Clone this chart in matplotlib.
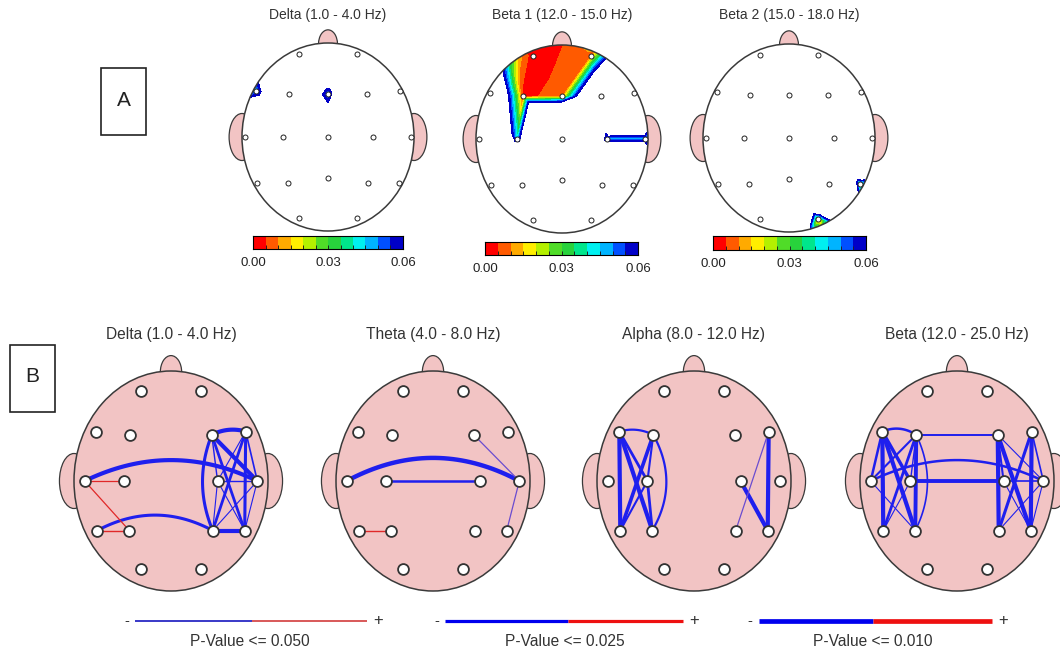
import numpy as np
import matplotlib
matplotlib.use('agg')
import matplotlib.pyplot as plt
import matplotlib.ticker as mticker
from matplotlib.patches import Ellipse, Rectangle
from matplotlib.colors import ListedColormap, BoundaryNorm

plt.rcParams['font.family'] = ['Liberation Sans', 'DejaVu Sans']

W, H = 1060, 651

# 10-20 electrode layout (head units, nose up)
names = ['Fp1', 'Fp2', 'F7', 'F3', 'Fz', 'F4', 'F8', 'T3', 'C3', 'Cz', 'C4', 'T4',
         'T5', 'P3', 'Pz', 'P4', 'T6', 'O1', 'O2']
ex = [-0.31, 0.31, -0.77, -0.42, 0.0, 0.42, 0.77, -0.89, -0.48, 0.0, 0.48, 0.89,
      -0.76, -0.43, 0.0, 0.43, 0.76, -0.31, 0.31]
ey = [0.82, 0.82, 0.45, 0.42, 0.42, 0.42, 0.45, 0.0, 0.0, 0.0, 0.0, 0.0,
      -0.45, -0.45, -0.40, -0.45, -0.45, -0.80, -0.80]

# panel A: p-values per electrode (same order as names)
titles_a = ['Delta (1.0 - 4.0 Hz)', 'Beta 1 (12.0 - 15.0 Hz)', 'Beta 2 (15.0 - 18.0 Hz)']
p_delta_a = [0.2, 0.2, 0.045, 0.15, 0.045, 0.2, 0.2, 0.15, 0.2, 0.12, 0.2, 0.2,
             0.2, 0.2, 0.2, 0.2, 0.2, 0.2, 0.2]
p_beta1_a = [0.001, 0.007, 0.13, 0.003, 0.008, 0.15, 0.3, 0.3, 0.04, 0.4, 0.045, 0.045,
             0.4, 0.4, 0.4, 0.4, 0.4, 0.4, 0.4]
p_beta2_a = [0.4, 0.4, 0.4, 0.4, 0.4, 0.4, 0.4, 0.4, 0.4, 0.4, 0.4, 0.4,
             0.4, 0.4, 0.4, 0.4, 0.025, 0.4, 0.008]
levels = np.linspace(0, 0.06, 13)
level_colors = ['#ff0000', '#ff5a00', '#ffaa00', '#ffee00', '#b4f000', '#50dc28',
                '#28d23c', '#00e68c', '#00f0f0', '#00b4ff', '#0050ff', '#0000c8']
cbar_ticks = [0.0, 0.03, 0.06]

# panel B: connections (from, to, width, colour, bend)
titles_b = ['Delta (1.0 - 4.0 Hz)', 'Theta (4.0 - 8.0 Hz)', 'Alpha (8.0 - 12.0 Hz)',
            'Beta (12.0 - 25.0 Hz)']
B, R, P = '#1f1fee', '#e02828', '#6a4cd0'
conn_delta = [('T3', 'T4', 3.0, B, 0.19), ('T5', 'P4', 2.2, B, 0.14), ('P4', 'T6', 3.0, B, 0),
              ('T3', 'C3', 0.9, R, 0), ('T3', 'P3', 0.9, R, 0), ('T5', 'P3', 1.0, R, 0),
              ('F4', 'F8', 3.0, B, 0.03), ('F4', 'P4', 2.2, B, -0.1), ('F4', 'T4', 3.0, B, 0),
              ('F4', 'T6', 2.0, B, 0), ('F8', 'P4', 2.0, B, 0), ('F8', 'T6', 2.2, B, 0),
              ('F4', 'C4', 1.0, B, 0), ('F8', 'C4', 0.8, B, 0), ('C4', 'T4', 1.0, B, 0),
              ('P4', 'T4', 0.8, B, 0), ('T6', 'T4', 0.8, B, 0), ('F8', 'T4', 1.2, B, 0),
              ('C4', 'T6', 0.8, B, 0), ('P4', 'C4', 0.8, B, 0)]
conn_theta = [('T3', 'T4', 3.2, B, 0.21), ('C3', 'C4', 1.8, B, 0),
              ('F4', 'T4', 0.9, P, 0), ('T4', 'T6', 0.9, P, 0), ('T5', 'P3', 1.0, R, 0)]
conn_alpha = [('F7', 'T5', 3.0, B, 0), ('F7', 'F3', 1.6, B, 0.03), ('F7', 'P3', 3.0, B, 0),
              ('F3', 'T5', 2.6, B, 0), ('F7', 'C3', 2.0, B, 0), ('C3', 'P3', 2.0, B, 0),
              ('F3', 'C3', 1.5, B, 0), ('C3', 'T5', 1.5, B, 0), ('F3', 'P3', 1.6, B, 0.14),
              ('F8', 'T6', 3.0, B, 0), ('C4', 'T6', 3.0, B, 0), ('F8', 'P4', 0.9, P, 0)]
conn_beta = [('F3', 'F4', 1.4, B, 0), ('C3', 'C4', 2.8, B, 0), ('T3', 'T4', 1.8, B, 0.19),
             ('F7', 'F3', 1.8, B, 0.04), ('F7', 'T5', 3.0, B, 0), ('F7', 'P3', 3.0, B, 0),
             ('F3', 'T5', 2.0, B, 0), ('F3', 'P3', 2.8, B, 0), ('F7', 'C3', 2.5, B, 0),
             ('F7', 'T3', 1.8, B, 0), ('F3', 'T3', 1.5, B, 0), ('T3', 'P3', 0.8, B, 0),
             ('F3', 'C3', 1.0, B, 0), ('C3', 'T5', 0.8, B, 0), ('F3', 'P3', 1.2, B, 0.12),
             ('F4', 'P4', 3.0, B, 0), ('F4', 'T6', 3.0, B, 0), ('F8', 'P4', 2.2, B, 0),
             ('F8', 'T6', 3.0, B, 0), ('F4', 'C4', 1.5, B, 0), ('F8', 'T4', 1.2, B, 0),
             ('C4', 'T4', 1.2, B, 0), ('P4', 'T4', 0.8, B, 0), ('F4', 'T4', 0.8, B, 0),
             ('T6', 'T4', 0.8, B, 0), ('C4', 'T6', 0.8, B, 0)]
no_midline = ['Fz', 'Cz', 'Pz']
legend_labels = ['P-Value <= 0.050', 'P-Value <= 0.025', 'P-Value <= 0.010']

PINK = '#f2c4c4'
EDGE = '#3a3a3a'
TXT = '#333333'
pos = {n: (x, y) for n, x, y in zip(names, ex, ey)}

fig = plt.figure(figsize=(W / 100, H / 100), dpi=100)
ov = fig.add_axes([0, 0, 1, 1])
ov.set_xlim(0, W)
ov.set_ylim(H, 0)
ov.axis('off')


def head_axes(cx, cy, rx, ry):
    ax = fig.add_axes([(cx - 1.3 * rx) / W, (H - cy - 1.15 * ry) / H,
                       2.6 * rx / W, 2.45 * ry / H])
    ax.set_xlim(-1.3, 1.3)
    ax.set_ylim(-1.15, 1.3)
    ax.axis('off')
    return ax


def draw_head(ax, fill):
    for sx in (-1, 1):
        ax.add_patch(Ellipse((sx * 1.0, 0), 0.3, 0.5, fc=PINK, ec=EDGE, lw=0.9, zorder=1))
    ax.add_patch(Ellipse((0, 0.99), 0.22, 0.3, fc=PINK, ec=EDGE, lw=0.9, zorder=1))
    hd = Ellipse((0, 0), 2, 2, fc=fill, ec='none', zorder=2)
    ax.add_patch(hd)
    ax.add_patch(Ellipse((0, 0), 2, 2, fc='none', ec=EDGE, lw=1.1, zorder=6))
    return hd


# ---- panel A: topographic p-value maps
cmap = ListedColormap(level_colors)
norm = BoundaryNorm(levels, cmap.N)
cx_a, cy_a = [328, 562, 789], [137, 139, 138]
cbar_a = [(253, 403, 236, 249), (485, 638, 242, 255), (713, 866, 236, 250)]
sc_a = 1.08
for i, vals in enumerate([p_delta_a, p_beta1_a, p_beta2_a]):
    ax = head_axes(cx_a[i], cy_a[i], 86, 94)
    hd = draw_head(ax, 'white')
    px = np.array(ex) * sc_a
    py = np.array(ey) * sc_a
    v = np.array(vals)
    # support points on the rim, inverse-distance weighted from the 3 nearest electrodes
    ang = np.linspace(0, 2 * np.pi, 48, endpoint=False)
    rxp, ryp = 1.02 * np.cos(ang), 1.02 * np.sin(ang)
    d = np.hypot(rxp[:, None] - px[None, :], ryp[:, None] - py[None, :])
    idx = np.argsort(d, axis=1)[:, :3]
    wgt = 1.0 / np.take_along_axis(d, idx, 1) ** 2
    rv = (wgt * v[idx]).sum(1) / wgt.sum(1)
    cs = ax.tricontourf(np.r_[px, rxp], np.r_[py, ryp], np.r_[v, rv],
                        levels=levels, colors=level_colors, zorder=3)
    cs.set_clip_path(hd)
    ax.plot(px, py, 'o', ms=3.6, mfc='white', mec='#222222', mew=0.7, zorder=7)
    ov.text(cx_a[i], 15, titles_a[i], ha='center', va='center', fontsize=10, color=TXT)

    x0, x1, y0, y1 = cbar_a[i]
    cax = fig.add_axes([x0 / W, 1 - y1 / H, (x1 - x0) / W, (y1 - y0) / H])
    mids = (levels[:-1] + levels[1:]) / 2
    cax.pcolormesh(levels, [0, 1], mids[None, :], cmap=cmap, norm=norm)
    cax.set_xlim(0, 0.06)
    cax.set_yticks([])
    cax.set_xticks(cbar_ticks)
    cax.set_xticklabels(['%.2f' % t for t in cbar_ticks])
    cax.xaxis.set_minor_locator(mticker.FixedLocator(levels))
    cax.tick_params(which='both', direction='in', length=3, width=0.7, labelsize=9.5,
                    colors='#222222', pad=6)
    for s in cax.spines.values():
        s.set_linewidth(0.8)

# ---- panel B: connectivity maps
cx_b, cy_b = [171, 433, 694, 957], 481
for i, conns in enumerate([conn_delta, conn_theta, conn_alpha, conn_beta]):
    ax = head_axes(cx_b[i], cy_b, 97, 110)
    draw_head(ax, PINK)
    for a, b, lw, col, bend in conns:
        (xa, ya), (xb, yb) = pos[a], pos[b]
        t = np.linspace(0, 1, 40)
        dx, dy = xb - xa, yb - ya
        ln = np.hypot(dx, dy)
        cxp = (xa + xb) / 2 - dy / ln * 2 * bend
        cyp = (ya + yb) / 2 + dx / ln * 2 * bend
        xs = (1 - t) ** 2 * xa + 2 * (1 - t) * t * cxp + t ** 2 * xb
        ys = (1 - t) ** 2 * ya + 2 * (1 - t) * t * cyp + t ** 2 * yb
        ax.plot(xs, ys, color=col, lw=lw, solid_capstyle='round', zorder=4)
    keep = [n for n in names if n not in no_midline]
    ax.plot([pos[n][0] for n in keep], [pos[n][1] for n in keep], 'o', ms=7.8,
            mfc='white', mec='#333333', mew=1.3, zorder=7)
    ov.text(cx_b[i], 335, titles_b[i], ha='center', va='center', fontsize=11.2, color=TXT)

# legends under panel B
leg = [(127, 135, 252, 367, 378, 250, 1.4, '#3838c8', '#d85858'),
       (437, 445, 568, 683, 694, 565, 2.3, '#0000ee', '#ee1010'),
       (750, 759, 873, 992, 1003, 873, 3.4, '#0000ee', '#ee1010')]
for k, (xm, xs, xmid, xe, xp, xt, lw, cb, cr) in enumerate(leg):
    ov.plot([xs, xmid], [621, 621], color=cb, lw=lw, solid_capstyle='butt')
    ov.plot([xmid, xe], [621, 621], color=cr, lw=lw, solid_capstyle='butt')
    ov.text(xm, 621, '-', ha='center', va='center', fontsize=10.5, color=TXT)
    ov.text(xp, 620, '+', ha='center', va='center', fontsize=12, color=TXT)
    ov.text(xt, 641, legend_labels[k], ha='center', va='center', fontsize=11.2, color=TXT)

# panel letters
ov.add_patch(Rectangle((101, 68), 45, 67, fc='white', ec='#222222', lw=1.2))
ov.text(123.5, 101, 'A', ha='center', va='center', fontsize=15, color='#222222')
ov.add_patch(Rectangle((10, 345), 45, 67, fc='white', ec='#222222', lw=1.2))
ov.text(32.5, 376, 'B', ha='center', va='center', fontsize=15, color='#222222')

fig.savefig('out.png', dpi=100)
